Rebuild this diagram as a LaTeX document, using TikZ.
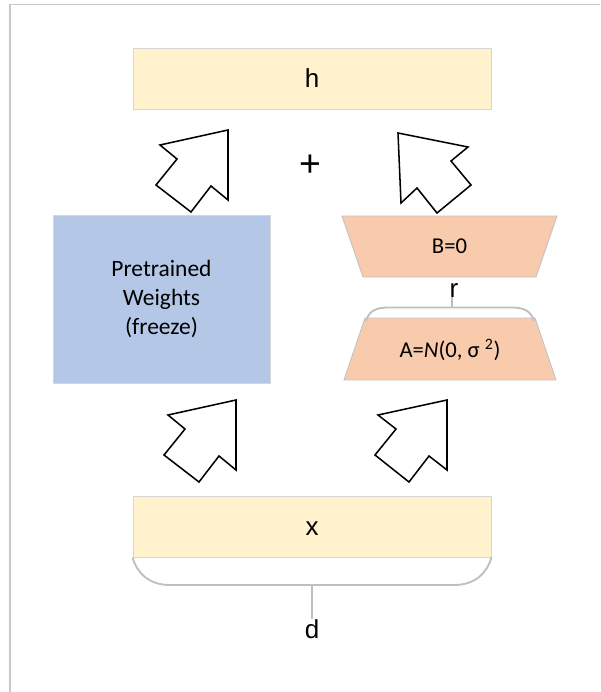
\documentclass[tikz,border=0pt]{standalone}
\usepackage{fontspec}
\setmainfont{Liberation Sans}
\newfontfamily\calib{Carlito}
\definecolor{framecol}{HTML}{C8C8C8}
\definecolor{yfill}{HTML}{FFF2CC}
\definecolor{bfill}{HTML}{B4C7E7}
\definecolor{tfill}{HTML}{F8CBAD}
\definecolor{boxline}{HTML}{D6D6D6}
\definecolor{trapline}{HTML}{C4C4C4}
\definecolor{bracecol}{HTML}{BFBFBF}
\tikzset{
  ybox/.style={draw=boxline, line width=0.7pt, fill=yfill, minimum width=268.5pt,
    minimum height=45.75pt, inner sep=0pt, font=\fontsize{19.5}{19.5}\selectfont,
    text height=14pt, text depth=0pt},
  wbox/.style={draw=boxline, line width=0.5pt, fill=bfill, minimum width=162.75pt,
    minimum height=126pt, inner sep=0pt, align=center,
    font=\calib\fontsize{17.6}{21.75}\selectfont},
  trapshape/.style={draw=trapline, fill=tfill, line width=0.7pt},
  traptext/.style={inner sep=0pt, font=\calib\fontsize{17}{17}\selectfont},
  blockarrow/.style={draw=black, fill=white, line width=1.15pt, line join=miter},
  bracket/.style={draw=bracecol, line width=1.4pt},
  lbl/.style={inner sep=0pt, font=\fontsize{19.5}{19.5}\selectfont}
}
\begin{document}
\begin{tikzpicture}[x=0.75pt,y=-0.75pt]
\useasboundingbox (0,0) rectangle (600,692);
% frame
\draw[framecol, line width=0.9pt] (10,692) -- (10,4.5) -- (600,4.5);

% boxes
\node[ybox] (h) at (312,78.5) {h};
\node[ybox] (x) at (312,526.5) {x};
\node[wbox] (pw) at (161.5,299) {Pretrained\\Weights\\(freeze)};

% trapezoids
\coordinate (b1) at (342,216); \coordinate (b2) at (557,216);
\coordinate (b3) at (536,277); \coordinate (b4) at (363,277);
\path[trapshape] (b1) -- (b2) -- (b3) -- (b4) -- cycle;
\node[traptext] (b) at (449.5,246.5) {B=0};

\coordinate (a1) at (365,318); \coordinate (a2) at (535,318);
\coordinate (a3) at (556,380); \coordinate (a4) at (344,380);
\path[trapshape] (a1) -- (a2) -- (a3) -- (a4) -- cycle;
\node[traptext] (a) at (450,350) {A=\textit{N}(0, σ \textsuperscript{2})};

% plus
\node[inner sep=0pt, font=\fontsize{28}{28}\selectfont] (plus) at (310,166) {+};

% block arrows
\draw[blockarrow] (160,145) -- (228,130) -- (228,200) -- (211,186) -- (191,212) -- (156,185) -- (177,159) -- cycle;
\draw[blockarrow] (398,133) -- (468,147) -- (451,161) -- (471,185) -- (437,213) -- (417,188) -- (401,203) -- cycle;
\draw[blockarrow] (168,415) -- (236,400) -- (236,470) -- (219,456) -- (199,482) -- (164,455) -- (185,429) -- cycle;
\draw[blockarrow] (378,415) -- (447,400) -- (447,470) -- (429,456) -- (409,482) -- (375,455) -- (396,429) -- cycle;

% brace over A with r
\node[lbl, anchor=base] (r) at (454,297) {r};
\draw[bracket] (366,321) .. controls (369,311) and (376,307.5) .. (388,307.5) -- (512,307.5) .. controls (524,307.5) and (531,311) .. (534,321);
\draw[bracket] (452,307.5) -- (452,297);

% brace under x with d
\node[lbl, anchor=base] (d) at (312,638) {d};
\draw[bracket] (x.south west) .. controls (137,573) and (149,585) .. (170,585) -- (454,585) .. controls (475,585) and (487,573) .. (x.south east);
\draw[bracket] (312,585) -- (d.north);
\end{tikzpicture}
\end{document}
